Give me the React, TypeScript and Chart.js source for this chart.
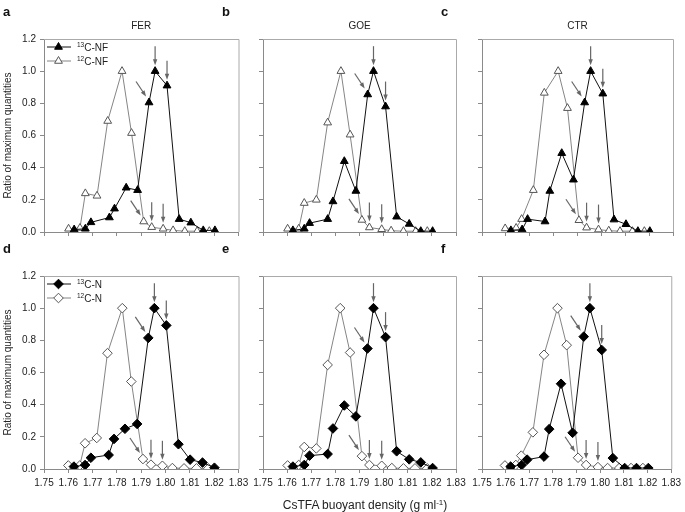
import React, { useEffect, useRef } from "react";
import { Chart, registerables } from "chart.js";

Chart.register(...registerables);

const FONT = "'Liberation Sans', Arial, sans-serif";

// x tick labels / y tick labels
const xTicks = [1.75, 1.76, 1.77, 1.78, 1.79, 1.8, 1.81, 1.82, 1.83];
const yTicks = [0, 0.2, 0.4, 0.6, 0.8, 1.0, 1.2];

// Panel a: FER, 13C-NF / 12C-NF
const aHeavyX = [1.7624, 1.767, 1.7693, 1.7769, 1.779, 1.7838, 1.7885, 1.7932, 1.7957, 1.8006, 1.8056, 1.8104, 1.8155, 1.8203];
const aHeavyY = [0.015, 0.02, 0.06, 0.09, 0.145, 0.275, 0.26, 0.805, 1.0, 0.91, 0.08, 0.058, 0.01, 0.01];
const aLightX = [1.7601, 1.7648, 1.767, 1.7718, 1.7762, 1.7821, 1.786, 1.791, 1.7943, 1.799, 1.8031, 1.8079, 1.813, 1.818];
const aLightY = [0.02, 0.025, 0.24, 0.225, 0.69, 1.0, 0.615, 0.065, 0.03, 0.02, 0.01, 0.005, 0.005, 0.005];

// Panel b: GOE
const bHeavyX = [1.7624, 1.7671, 1.7693, 1.7768, 1.779, 1.7837, 1.7885, 1.7934, 1.7958, 1.8008, 1.8054, 1.8106, 1.8154, 1.8203];
const bHeavyY = [0.01, 0.02, 0.055, 0.08, 0.19, 0.44, 0.255, 0.855, 1.0, 0.78, 0.095, 0.05, 0.005, 0.005];
const bLightX = [1.7602, 1.7648, 1.7671, 1.7721, 1.7768, 1.7823, 1.7861, 1.791, 1.7941, 1.7992, 1.8031, 1.8082, 1.8133, 1.8181];
const bLightY = [0.02, 0.02, 0.18, 0.2, 0.68, 1.0, 0.605, 0.075, 0.028, 0.017, 0.008, 0.005, 0.005, 0.005];

// Panel c: CTR
const cHeavyX = [1.7621, 1.7668, 1.7691, 1.7764, 1.7784, 1.7834, 1.7883, 1.793, 1.7955, 1.8006, 1.8053, 1.8103, 1.8153, 1.8203];
const cHeavyY = [0.01, 0.015, 0.08, 0.065, 0.255, 0.49, 0.325, 0.805, 1.0, 0.86, 0.077, 0.048, 0.005, 0.005];
const cLightX = [1.7597, 1.7643, 1.7666, 1.7715, 1.7761, 1.7819, 1.7858, 1.7906, 1.7938, 1.7988, 1.8031, 1.8078, 1.813, 1.818];
const cLightY = [0.022, 0.025, 0.08, 0.26, 0.865, 1.0, 0.77, 0.073, 0.027, 0.015, 0.008, 0.005, 0.005, 0.005];

// Panel d: FER, 13C-N / 12C-N
const dHeavyX = [1.7623, 1.7669, 1.7693, 1.7766, 1.7788, 1.7833, 1.7883, 1.7929, 1.7954, 1.8003, 1.8053, 1.8101, 1.8152, 1.8201];
const dHeavyY = [0.015, 0.025, 0.07, 0.087, 0.187, 0.25, 0.28, 0.815, 1.0, 0.893, 0.154, 0.058, 0.04, 0.008];
const dLightX = [1.76, 1.7647, 1.7669, 1.7717, 1.7761, 1.7822, 1.7859, 1.7907, 1.794, 1.7987, 1.8028, 1.8076, 1.8127, 1.8176];
const dLightY = [0.022, 0.022, 0.16, 0.193, 0.72, 1.0, 0.544, 0.062, 0.027, 0.02, 0.006, 0.004, 0.004, 0.004];

// Panel e: GOE
const eHeavyX = [1.7624, 1.7671, 1.7693, 1.7768, 1.779, 1.7837, 1.7885, 1.7933, 1.7958, 1.8008, 1.8054, 1.8106, 1.8154, 1.8203];
const eHeavyY = [0.015, 0.025, 0.083, 0.093, 0.252, 0.395, 0.327, 0.749, 1.0, 0.82, 0.11, 0.06, 0.041, 0.006];
const eLightX = [1.7602, 1.7648, 1.7671, 1.7721, 1.7768, 1.782, 1.7861, 1.791, 1.7941, 1.7992, 1.8034, 1.8082, 1.813, 1.8181];
const eLightY = [0.022, 0.025, 0.137, 0.128, 0.647, 1.0, 0.724, 0.08, 0.025, 0.02, 0.006, 0.004, 0.004, 0.004];

// Panel f: CTR
const fHeavyX = [1.7621, 1.7668, 1.7691, 1.7762, 1.7784, 1.7834, 1.7883, 1.793, 1.7956, 1.8006, 1.8053, 1.8103, 1.8153, 1.8203];
const fHeavyY = [0.015, 0.025, 0.058, 0.077, 0.248, 0.53, 0.225, 0.823, 1.0, 0.74, 0.068, 0.006, 0.006, 0.006];
const fLightX = [1.7597, 1.7643, 1.7666, 1.7715, 1.7762, 1.7819, 1.7858, 1.7906, 1.794, 1.799, 1.8031, 1.808, 1.813, 1.818];
const fLightY = [0.022, 0.025, 0.083, 0.228, 0.71, 1.0, 0.77, 0.07, 0.025, 0.012, 0.006, 0.006, 0.006, 0.006];

// arrows point at these fraction indices (first one diagonal, others vertical)
const heavyArrowIdx = [7, 8, 9];
const lightArrowIdx = [7, 8, 9];

const panelLetters = ["a", "b", "c", "d", "e", "f"];
const panelTitles = ["FER", "GOE", "CTR", "", "", ""];
const legendNF = ["C-NF", "C-NF"];
const legendN = ["C-N", "C-N"];

type Panel = {
  hx: number[]; hy: number[]; lx: number[]; ly: number[];
  marker: "triangle" | "rectRot";
  L: number; R: number; T: number; B: number;
  yLabels: boolean; xLabels: boolean; legend: string[] | null;
};

const W = 685, H = 512;

const panels: Panel[] = [
  { hx: aHeavyX, hy: aHeavyY, lx: aLightX, ly: aLightY, marker: "triangle", L: 44, R: 238.5, T: 39, B: 232, yLabels: true, xLabels: false, legend: legendNF },
  { hx: bHeavyX, hy: bHeavyY, lx: bLightX, ly: bLightY, marker: "triangle", L: 263, R: 456, T: 39, B: 232, yLabels: false, xLabels: false, legend: null },
  { hx: cHeavyX, hy: cHeavyY, lx: cLightX, ly: cLightY, marker: "triangle", L: 482, R: 673, T: 39, B: 232, yLabels: false, xLabels: false, legend: null },
  { hx: dHeavyX, hy: dHeavyY, lx: dLightX, ly: dLightY, marker: "rectRot", L: 44, R: 238.5, T: 276, B: 469, yLabels: true, xLabels: true, legend: legendN },
  { hx: eHeavyX, hy: eHeavyY, lx: eLightX, ly: eLightY, marker: "rectRot", L: 263, R: 456, T: 276, B: 469, yLabels: false, xLabels: true, legend: null },
  { hx: fHeavyX, hy: fHeavyY, lx: fLightX, ly: fLightY, marker: "rectRot", L: 482, R: 673, T: 276, B: 469, yLabels: false, xLabels: true, legend: null },
];

const HEAVY_LINE = "#111111";
const LIGHT_LINE = "#858585";
const OPEN_EDGE = "#555555";
const ARROW = "#666666";
const AXIS = "#8a8a8a";
const FRAME = "#aaaaaa";

function drawMarker(ctx: CanvasRenderingContext2D, style: string, x: number, y: number, r: number, fill: string, stroke: string) {
  ctx.beginPath();
  if (style === "triangle") {
    let rad = 0;
    ctx.moveTo(x + Math.sin(rad) * r, y - Math.cos(rad) * r);
    rad += (2 * Math.PI) / 3;
    ctx.lineTo(x + Math.sin(rad) * r, y - Math.cos(rad) * r);
    rad += (2 * Math.PI) / 3;
    ctx.lineTo(x + Math.sin(rad) * r, y - Math.cos(rad) * r);
  } else {
    ctx.moveTo(x, y - r);
    ctx.lineTo(x + r, y);
    ctx.lineTo(x, y + r);
    ctx.lineTo(x - r, y);
  }
  ctx.closePath();
  ctx.fillStyle = fill;
  ctx.fill();
  ctx.strokeStyle = stroke;
  ctx.lineWidth = 1;
  ctx.stroke();
}

function drawArrow(ctx: CanvasRenderingContext2D, x0: number, y0: number, x1: number, y1: number) {
  const ang = Math.atan2(y1 - y0, x1 - x0);
  const hl = 6, hw = 2.2;
  ctx.strokeStyle = ARROW;
  ctx.fillStyle = ARROW;
  ctx.lineWidth = 1.2;
  ctx.beginPath();
  ctx.moveTo(x0, y0);
  ctx.lineTo(x1 - Math.cos(ang) * hl * 0.6, y1 - Math.sin(ang) * hl * 0.6);
  ctx.stroke();
  ctx.beginPath();
  ctx.moveTo(x1, y1);
  ctx.lineTo(x1 - Math.cos(ang) * hl - Math.sin(ang) * hw, y1 - Math.sin(ang) * hl + Math.cos(ang) * hw);
  ctx.lineTo(x1 - Math.cos(ang) * hl + Math.sin(ang) * hw, y1 - Math.sin(ang) * hl - Math.cos(ang) * hw);
  ctx.closePath();
  ctx.fill();
}

function makeChart(canvas: HTMLCanvasElement, p: Panel) {
  const yw = p.yLabels ? p.L : 10;
  const xh = 22;
  const radius = p.marker === "triangle" ? 4.5 : 4.8;
  const heavy = p.hx.map((x, i) => ({ x, y: p.hy[i] }));
  const light = p.lx.map((x, i) => ({ x, y: p.ly[i] }));

  const overlay = {
    id: "overlay" + p.L + p.T,
    afterDatasetsDraw(chart: any) {
      const ctx: CanvasRenderingContext2D = chart.ctx;
      const a = chart.chartArea;
      ctx.save();
      // frame top/right
      ctx.strokeStyle = FRAME;
      ctx.lineWidth = 1;
      ctx.beginPath();
      ctx.moveTo(a.left, a.top + 0.5);
      ctx.lineTo(a.right + 0.5, a.top + 0.5);
      ctx.lineTo(a.right + 0.5, a.bottom);
      ctx.stroke();
      // arrows
      const hm = chart.getDatasetMeta(0).data;
      const lm = chart.getDatasetMeta(1).data;
      [[hm, heavyArrowIdx], [lm, lightArrowIdx]].forEach(([meta, idxs]: any) => {
        idxs.forEach((idx: number, k: number) => {
          const pt = meta[idx];
          if (!pt) return;
          if (k === 0) {
            drawArrow(ctx, pt.x - 13, pt.y - 21, pt.x - 3, pt.y - 6);
          } else {
            drawArrow(ctx, pt.x, pt.y - 25, pt.x, pt.y - 6);
          }
        });
      });
      // legend
      if (p.legend) {
        const lx0 = a.left + 3, lx1 = a.left + 27, mx = a.left + 14.5;
        const rows = [
          { y: a.top + 8, color: HEAVY_LINE, fill: "#000", edge: "#000", sup: "13", text: p.legend[0] },
          { y: a.top + 22, color: LIGHT_LINE, fill: "#fff", edge: OPEN_EDGE, sup: "12", text: p.legend[1] },
        ];
        rows.forEach((r) => {
          ctx.strokeStyle = r.color;
          ctx.lineWidth = 1;
          ctx.beginPath();
          ctx.moveTo(lx0, r.y);
          ctx.lineTo(lx1, r.y);
          ctx.stroke();
          drawMarker(ctx, p.marker, mx, r.y, radius, r.fill, r.edge);
          ctx.fillStyle = "#222";
          ctx.textBaseline = "alphabetic";
          ctx.textAlign = "left";
          ctx.font = `6.5px ${FONT}`;
          ctx.fillText(r.sup, a.left + 33, r.y - 0.5);
          const sw = ctx.measureText(r.sup).width;
          ctx.font = `10px ${FONT}`;
          ctx.fillText(r.text, a.left + 33 + sw, r.y + 3.5);
        });
      }
      ctx.restore();
    },
  };

  return new Chart(canvas, {
    type: "scatter",
    data: {
      datasets: [
        {
          data: heavy,
          showLine: true,
          borderColor: HEAVY_LINE,
          borderWidth: 1,
          pointStyle: p.marker,
          pointRadius: radius,
          pointBackgroundColor: "#000",
          pointBorderColor: "#000",
          pointBorderWidth: 1,
          tension: 0,
        },
        {
          data: light,
          showLine: true,
          borderColor: LIGHT_LINE,
          borderWidth: 1,
          pointStyle: p.marker,
          pointRadius: radius,
          pointBackgroundColor: "#fff",
          pointBorderColor: OPEN_EDGE,
          pointBorderWidth: 1,
          tension: 0,
        },
      ],
    },
    options: {
      animation: false,
      responsive: false,
      events: [],
      layout: {
        padding: { left: p.L - yw, top: p.T, right: W - p.R, bottom: H - p.B - xh },
      },
      plugins: { legend: { display: false }, tooltip: { enabled: false }, title: { display: false } },
      scales: {
        x: {
          type: "linear",
          min: xTicks[0],
          max: xTicks[xTicks.length - 1],
          afterBuildTicks: (s: any) => { s.ticks = xTicks.map((v) => ({ value: v })); },
          afterFit: (s: any) => { s.height = xh; },
          ticks: {
            display: p.xLabels,
            autoSkip: false,
            maxRotation: 0,
            padding: 4,
            color: "#222",
            font: { family: FONT, size: 10 },
            callback: (v: any) => Number(v).toFixed(2),
          },
          grid: { drawOnChartArea: false, drawTicks: true, tickLength: 4, color: AXIS },
          border: { display: true, color: AXIS, width: 1 },
        },
        y: {
          type: "linear",
          min: yTicks[0],
          max: yTicks[yTicks.length - 1],
          afterBuildTicks: (s: any) => { s.ticks = yTicks.map((v) => ({ value: v })); },
          afterFit: (s: any) => { s.width = yw; },
          ticks: {
            display: p.yLabels,
            padding: 4,
            color: "#222",
            font: { family: FONT, size: 10 },
            callback: (v: any) => Number(v).toFixed(1),
          },
          title: {
            display: p.yLabels,
            text: "Ratio of maximum quantities",
            color: "#222",
            font: { family: FONT, size: 10 },
            padding: { top: 2, bottom: 0 },
          },
          grid: { drawOnChartArea: false, drawTicks: true, tickLength: 4, color: AXIS },
          border: { display: true, color: AXIS, width: 1 },
        },
      },
    },
    plugins: [overlay],
  } as any);
}

function PanelCanvas({ p }: { p: Panel }) {
  const ref = useRef<HTMLCanvasElement | null>(null);
  useEffect(() => {
    if (!ref.current) return;
    const chart = makeChart(ref.current, p);
    return () => chart.destroy();
  }, [p]);
  return (
    <canvas
      ref={ref}
      width={W}
      height={H}
      style={{ position: "absolute", left: 0, top: 0, width: W, height: H }}
    />
  );
}

export default function App() {
  const textBase: React.CSSProperties = {
    position: "absolute",
    fontFamily: FONT,
    color: "#222",
    lineHeight: 1,
    whiteSpace: "nowrap",
  };
  return (
    <div style={{ position: "fixed", left: 0, top: 0, width: W, height: H, background: "#fff", overflow: "hidden" }}>
      {panels.map((p, i) => (
        <PanelCanvas key={i} p={p} />
      ))}
      {panels.map((p, i) => (
        <div
          key={"l" + i}
          style={{ ...textBase, left: p.L - 41, top: p.T - 34, fontSize: 13, fontWeight: "bold", color: "#111" }}
        >
          {panelLetters[i]}
        </div>
      ))}
      {panels.map((p, i) =>
        panelTitles[i] ? (
          <div
            key={"t" + i}
            style={{ ...textBase, left: p.L, width: p.R - p.L, top: p.T - 18, fontSize: 10, textAlign: "center" }}
          >
            {panelTitles[i]}
          </div>
        ) : null
      )}
      <div style={{ ...textBase, left: 265, width: 200, top: 499, fontSize: 12, textAlign: "center" }}>
        CsTFA buoyant density (g ml<sup style={{ fontSize: 8, verticalAlign: "top", lineHeight: 1 }}>-1</sup>)
      </div>
    </div>
  );
}
